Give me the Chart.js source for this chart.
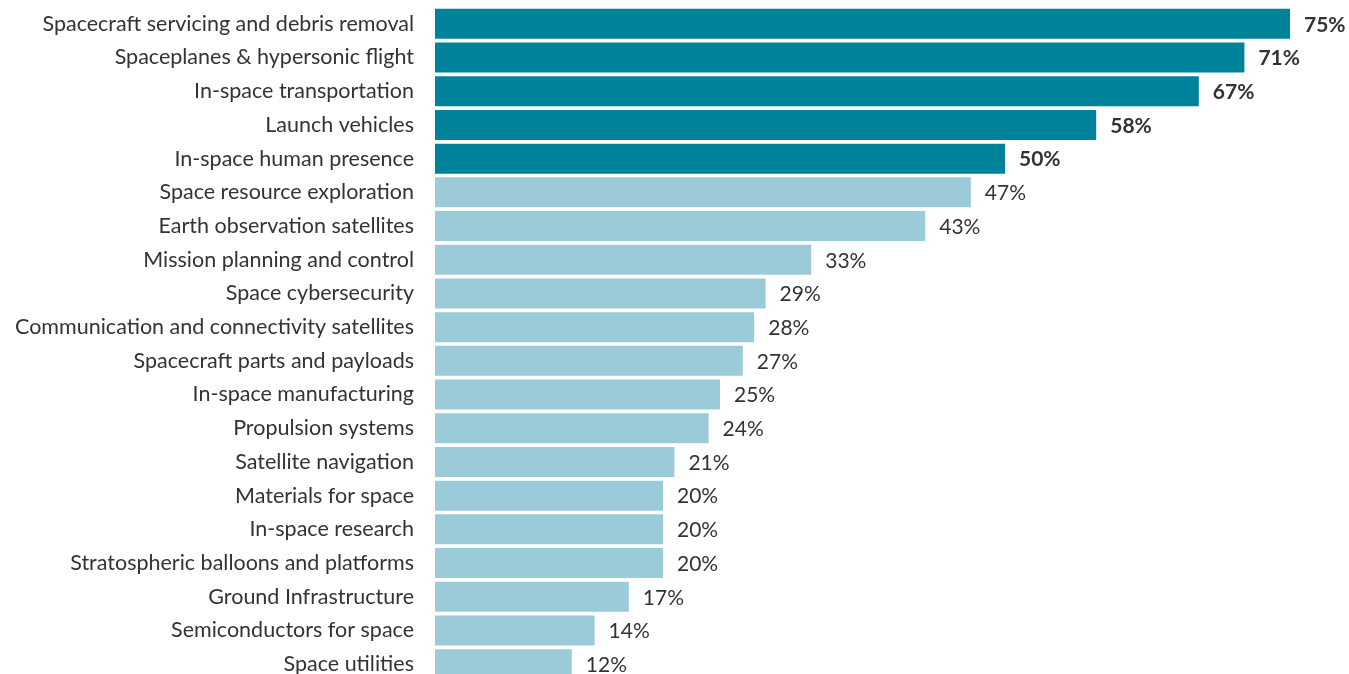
<!DOCTYPE html>
<html>
<head>
<meta charset="utf-8">
<script src="https://cdn.jsdelivr.net/npm/chart.js@4"></script>
<style>
  html, body { margin: 0; padding: 0; background: #fff; overflow: hidden; }
  canvas { display: block; }
</style>
</head>
<body>
<canvas id="barChart" width="1349" height="681"></canvas>
<script>
// Danh mục và giá trị (%)
var categories = [
    'Spacecraft servicing and debris removal',
    'Spaceplanes & hypersonic flight',
    'In-space transportation',
    'Launch vehicles',
    'In-space human presence',
    'Space resource exploration',
    'Earth observation satellites',
    'Mission planning and control',
    'Space cybersecurity',
    'Communication and connectivity satellites',
    'Spacecraft parts and payloads',
    'In-space manufacturing',
    'Propulsion systems',
    'Satellite navigation',
    'Materials for space',
    'In-space research',
    'Stratospheric balloons and platforms',
    'Ground Infrastructure',
    'Semiconductors for space',
    'Space utilities'
];
var values = [75, 71, 67, 58, 50, 47, 43, 33, 29, 28, 27, 25, 24, 21, 20, 20, 20, 17, 14, 12];

// 5 mục đầu được tô đậm
var topCount = 5;
var darkColor = '#00829b';
var lightColor = '#9bcbd8';
var fontFamily = 'Lato, sans-serif';

var barColors = values.map(function (v, i) { return i < topCount ? darkColor : lightColor; });

// Plugin vẽ nhãn phần trăm ở cuối mỗi thanh
var valueLabels = {
    id: 'valueLabels',
    afterDatasetsDraw: function (chart) {
        var ctx = chart.ctx;
        var meta = chart.getDatasetMeta(0);
        ctx.save();
        ctx.fillStyle = '#333333';
        ctx.textAlign = 'left';
        ctx.textBaseline = 'middle';
        meta.data.forEach(function (bar, i) {
            ctx.font = (i < topCount ? 'bold ' : '') + '21px ' + fontFamily;
            ctx.fillText(values[i] + '%', bar.x + 14, bar.y + 1);
        });
        ctx.restore();
    }
};

var ctx = document.getElementById('barChart').getContext('2d');
var chart = new Chart(ctx, {
    type: 'bar',
    data: {
        labels: categories,
        datasets: [{
            data: values,
            backgroundColor: barColors,
            borderWidth: 0,
            barPercentage: 0.89,
            categoryPercentage: 1.0
        }]
    },
    options: {
        indexAxis: 'y',
        responsive: false,
        animation: false,
        layout: { padding: { top: 7, right: 2, bottom: 0, left: 0 } },
        scales: {
            x: {
                display: false,
                min: 0,
                max: 80
            },
            y: {
                grid: { display: false, drawTicks: false },
                border: { display: false },
                ticks: {
                    color: '#333333',
                    padding: 21,
                    font: { family: fontFamily, size: 21.5 }
                },
                afterFit: function (scale) {
                    // cố định lề trái, bỏ khoảng đệm trên/dưới của nhãn
                    scale.width = 435;
                    scale.paddingTop = 0;
                    scale.paddingBottom = 0;
                }
            }
        },
        plugins: {
            legend: { display: false },
            tooltip: { enabled: false }
        }
    },
    plugins: [valueLabels]
});
</script>
</body>
</html>
